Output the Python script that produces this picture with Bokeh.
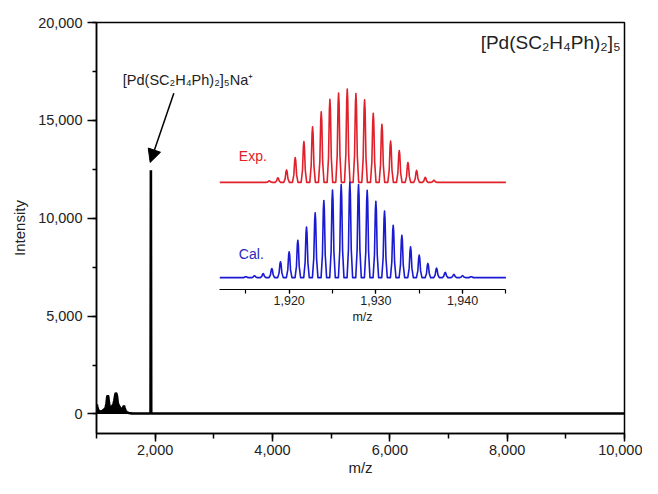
from bokeh.plotting import figure
from bokeh.models import (Range1d, LinearAxis, SingleIntervalTicker, NumeralTickFormatter,
                          Label, Arrow, NormalHead)
from bokeh.embed import file_html
from bokeh.resources import INLINE

# ---------------- data ----------------
# full-range mass spectrum (m/z, intensity)
spectrum_mz = [1000, 1005, 1012, 1025, 1045, 1070, 1100, 1130, 1155, 1170, 1182, 1192, 1200,
               1210, 1222, 1240, 1265, 1290, 1305, 1318, 1330, 1340, 1350, 1362, 1380, 1400,
               1420, 1440, 1455, 1468, 1480, 1495, 1515, 1550, 1600, 1700, 1800, 1900, 1921,
               1927, 1933, 1960, 2000, 2500, 3000, 3500, 4000, 4500, 5000, 5500, 6000, 6500,
               7000, 7500, 8000, 8500, 9000, 9500, 10000]
spectrum_intensity = [120, 480, 380, 220, 140, 120, 150, 220, 300, 520, 850, 950, 880,
                      620, 380, 300, 380, 500, 700, 950, 1080, 1020, 900, 560, 420, 330,
                      250, 220, 330, 420, 300, 160, 80, 50, 30, 20, 20, 20, 20,
                      12450, 20, 20, 20, 20, 20, 20, 20, 20, 20, 20, 20, 20,
                      20, 20, 20, 20, 20, 20, 20]

# inset: experimental isotope pattern (relative intensity)
exp_mz = [1917.7, 1918.7, 1919.7, 1920.7, 1921.7, 1922.7, 1923.7, 1924.7, 1925.7, 1926.7,
          1927.7, 1928.7, 1929.7, 1930.7, 1931.7, 1932.7, 1933.7, 1934.7, 1935.7, 1936.7]
exp_intensity = [1.6, 4.7, 13, 26, 42.7, 58.3, 74, 87, 93.8, 98,
                 93.2, 86.5, 72.4, 61, 43.2, 33.3, 20.8, 12.5, 5.2, 2.1]

# inset: calculated isotope pattern (relative intensity)
cal_mz = [1915, 1916, 1917, 1918, 1919, 1920, 1921, 1922, 1923, 1924, 1925, 1926, 1927, 1928,
          1929, 1930, 1931, 1932, 1933, 1934, 1935, 1936, 1937, 1938, 1939, 1940, 1941]
cal_intensity = [1, 2, 4.2, 9.5, 16.7, 27, 39.3, 53, 68, 81, 92, 97.6, 100, 97.6,
                 91.7, 80.2, 69.8, 54.9, 44.5, 32.3, 23.6, 14.9, 9.9, 5.5, 3.4, 2.1, 1]

x_range_main = (1000, 10000)
y_range_main = (-1000, 20000)
inset_x_bounds = (1912, 1945)
exp_offset = 100          # vertical offset of the Exp. trace in the inset

title_text = "[Pd(SC\u2082H\u2084Ph)\u2082]\u2085"
peak_label_text = "[Pd(SC\u2082H\u2084Ph)\u2082]\u2085Na\u207a"

# ---------------- layout / style ----------------
W, H = 642, 478
BL, BR, BT, BB = 96, 18, 22, 42
frame_w = W - BL - BR
frame_h = H - BT - BB
FONT = "Liberation Sans"
RED = "#e0202a"
BLUE = "#1a1ad2"

# inset placement (pixels inside the frame)
INSET_PX_PER_MZ = 8.67
INSET_LEFT_PX = 123.3
INSET_PX_PER_UNIT = 0.96
INSET_BASE_PX = 257.0      # blue baseline below frame top
ix0 = inset_x_bounds[0] - INSET_LEFT_PX / INSET_PX_PER_MZ
ix1 = ix0 + frame_w / INSET_PX_PER_MZ
iy1 = INSET_BASE_PX / INSET_PX_PER_UNIT
iy0 = iy1 - frame_h / INSET_PX_PER_UNIT

p = figure(width=W, height=H, output_backend="svg", toolbar_location=None,
           x_range=Range1d(*x_range_main), y_range=Range1d(*y_range_main),
           min_border_left=BL, min_border_right=BR, min_border_top=BT, min_border_bottom=BB)
p.extra_x_ranges = {"inset": Range1d(ix0, ix1)}
p.extra_y_ranges = {"inset": Range1d(iy0, iy1)}

p.grid.visible = False
p.outline_line_color = "black"
p.outline_line_width = 1.5
p.background_fill_color = "white"
p.border_fill_color = "white"

xa = p.xaxis[0]
xa.ticker = SingleIntervalTicker(interval=2000, num_minor_ticks=2)
xa.formatter = NumeralTickFormatter(format="0,0")
xa.axis_label = "m/z"
ya = p.yaxis[0]
ya.ticker = SingleIntervalTicker(interval=5000, num_minor_ticks=2)
ya.formatter = NumeralTickFormatter(format="0,0")
ya.axis_label = "Intensity"
for ax in (xa, ya):
    ax.axis_line_width = 1.5
    ax.major_tick_line_width = 1.5
    ax.minor_tick_line_width = 1.5
    ax.major_tick_in = 0
    ax.minor_tick_in = 0
    ax.major_label_text_font = FONT
    ax.major_label_text_font_size = "14.5px"
    ax.major_label_text_color = "#222222"
    ax.axis_label_text_font = FONT
    ax.axis_label_text_font_size = "15px"
    ax.axis_label_text_font_style = "normal"
    ax.axis_label_text_color = "#222222"
xa.major_tick_out = 8
xa.minor_tick_out = 5
ya.major_tick_out = 9
ya.minor_tick_out = 4
xa.major_label_standoff = 3
ya.major_label_standoff = 5
xa.axis_label_standoff = 1
ya.axis_label_standoff = 7

# main spectrum
p.varea(x=spectrum_mz, y1=0, y2=spectrum_intensity, fill_color="black")
p.line(spectrum_mz, spectrum_intensity, line_color="black", line_width=2.6)

# arrow + labels
p.add_layout(Arrow(end=NormalHead(size=13, fill_color="black", line_color="black", line_width=1),
                   x_start=2318, y_start=16380, x_end=1915, y_end=12850,
                   line_color="black", line_width=1.5))
p.add_layout(Label(x=2560, y=17060, text=peak_label_text, text_font=FONT,
                   text_font_size="14.5px", text_align="center", text_baseline="middle",
                   text_color="#222222"))
p.add_layout(Label(x=9934, y=18990, text=title_text, text_font=FONT,
                   text_font_size="19px", text_align="right", text_baseline="middle",
                   text_color="#222222"))

# inset traces: each isotope peak drawn with a fixed narrow peak profile
PEAK_SHAPE = [(-0.32, 0.0), (-0.16, 0.3), (-0.06, 0.88), (0.0, 1.0), (0.06, 0.88),
              (0.16, 0.3), (0.32, 0.0)]


def trace(mzs, ints, base):
    xs = [inset_x_bounds[0]]
    ys = [base]
    for m, h in zip(mzs, ints):
        for dx, f in PEAK_SHAPE:
            xs.append(m + dx)
            ys.append(base + f * h)
    xs.append(inset_x_bounds[1])
    ys.append(base)
    return xs, ys


ex, ey = trace(exp_mz, exp_intensity, exp_offset)
cx, cy = trace(cal_mz, cal_intensity, 0)
p.line(ex, ey, line_color=RED, line_width=1.6, line_join="round",
       x_range_name="inset", y_range_name="inset")
p.line(cx, cy, line_color=BLUE, line_width=1.6, line_join="round",
       x_range_name="inset", y_range_name="inset")

p.add_layout(Label(x=1914.2, y=exp_offset + 28, text="Exp.", text_font=FONT,
                   text_font_size="14px", text_baseline="middle", text_color=RED,
                   x_range_name="inset", y_range_name="inset"))
p.add_layout(Label(x=1914.2, y=25, text="Cal.", text_font=FONT,
                   text_font_size="14px", text_baseline="middle", text_color="#2a2ab8",
                   x_range_name="inset", y_range_name="inset"))

inset_axis = LinearAxis(x_range_name="inset", y_range_name="inset", fixed_location=-12.2,
                        bounds=inset_x_bounds,
                        ticker=SingleIntervalTicker(interval=10, num_minor_ticks=2),
                        formatter=NumeralTickFormatter(format="0,0"), axis_label="m/z")
inset_axis.axis_line_width = 1.2
inset_axis.major_tick_in = 0
inset_axis.minor_tick_in = 0
inset_axis.major_tick_out = 4
inset_axis.minor_tick_out = 4
inset_axis.major_tick_line_width = 1.2
inset_axis.minor_tick_line_width = 1.2
inset_axis.major_label_text_font = FONT
inset_axis.major_label_text_font_size = "12.5px"
inset_axis.major_label_text_color = "#222222"
inset_axis.major_label_standoff = 3
inset_axis.axis_label_text_font = FONT
inset_axis.axis_label_text_font_size = "12.5px"
inset_axis.axis_label_text_font_style = "normal"
inset_axis.axis_label_text_color = "#222222"
inset_axis.axis_label_standoff = 1
p.add_layout(inset_axis, "below")

open("out.html", "w").write(file_html(p, INLINE))
